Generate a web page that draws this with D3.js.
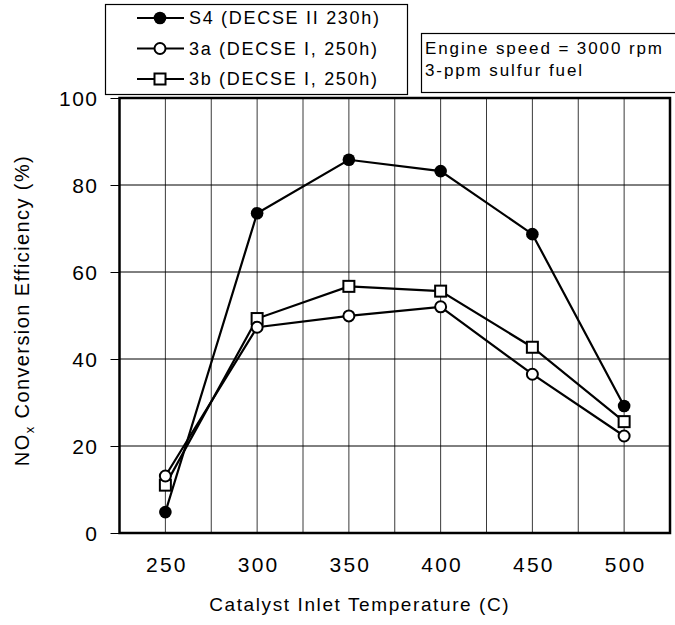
<!DOCTYPE html>
<html>
<head>
<meta charset="utf-8">
<script src="https://cdn.jsdelivr.net/npm/d3@7"></script>
<style>
  body { margin: 0; background: #fff; }
  text { font-family: "Liberation Sans", Arial, sans-serif; fill: #000; }
</style>
</head>
<body>
<svg id="chart" width="675" height="625"></svg>
<script>
const temps = [250, 300, 350, 400, 450, 500];
const s4 = [4.8, 73.5, 85.8, 83.2, 68.7, 29.2];
const s3a = [13.1, 47.3, 49.9, 52.0, 36.5, 22.3];
const s3b = [11.0, 49.3, 56.7, 55.6, 42.7, 25.6];
const seriesNames = ["S4 (DECSE II 230h)", "3a (DECSE I, 250h)", "3b (DECSE I, 250h)"];
const xTicks = [250, 300, 350, 400, 450, 500];
const yTicks = [0, 20, 40, 60, 80, 100];
const noteLines = ["Engine speed = 3000 rpm", "3-ppm sulfur fuel"];

const series = [
    {name: seriesNames[0], values: s4, marker: "filledCircle"},
    {name: seriesNames[1], values: s3a, marker: "openCircle"},
    {name: seriesNames[2], values: s3b, marker: "square"}
];

const margin = {top: 98, right: 5, bottom: 92, left: 119.5};
const width = 675 - margin.left - margin.right;
const height = 625 - margin.top - margin.bottom;

const svg = d3.select("#chart");
const g = svg.append("g")
    .attr("transform", `translate(${margin.left},${margin.top})`);

const x = d3.scaleLinear().domain([225, 525]).range([0, width]);
const y = d3.scaleLinear().domain([0, 100]).range([height, 0]);

// vertical grid every 25
g.selectAll(".vgrid")
    .data(d3.range(250, 525, 25))
    .enter()
    .append("line")
    .attr("x1", d => x(d)).attr("x2", d => x(d))
    .attr("y1", 0).attr("y2", height)
    .attr("stroke", "#3a3a3a")
    .attr("stroke-width", 1);

// horizontal grid
g.selectAll(".hgrid")
    .data(yTicks.slice(1, -1))
    .enter()
    .append("line")
    .attr("x1", 0).attr("x2", width)
    .attr("y1", d => y(d)).attr("y2", d => y(d))
    .attr("stroke", "#000")
    .attr("stroke-width", 1);

// y axis ticks and labels
const yAxis = g.append("g")
    .call(d3.axisLeft(y).tickValues(yTicks).tickSize(9).tickPadding(12));
yAxis.select(".domain").remove();
yAxis.selectAll("line").attr("stroke", "#000");
yAxis.selectAll("text")
    .style("font-size", "21px")
    .style("letter-spacing", "1.5px")
    .attr("dy", "0.35em");

// x axis labels
const xAxis = g.append("g")
    .attr("transform", `translate(0,${height})`)
    .call(d3.axisBottom(x).tickValues(xTicks).tickSize(0).tickPadding(24));
xAxis.select(".domain").remove();
xAxis.selectAll("text")
    .style("font-size", "21px")
    .style("letter-spacing", "2.2px")
    .attr("dx", "1px");

// frame
g.append("rect")
    .attr("x", 0).attr("y", 0)
    .attr("width", width).attr("height", height)
    .attr("fill", "none")
    .attr("stroke", "#000")
    .attr("stroke-width", 2.5);

// axis titles
svg.append("text")
    .attr("x", margin.left + width / 2 - 35)
    .attr("y", 611)
    .attr("text-anchor", "middle")
    .style("font-size", "19px")
    .style("letter-spacing", "1.6px")
    .text("Catalyst Inlet Temperature (C)");

const yTitle = svg.append("text")
    .attr("transform", `translate(29,${margin.top + height / 2 - 5}) rotate(-90)`)
    .attr("text-anchor", "middle")
    .style("font-size", "20px")
    .style("letter-spacing", "1.4px");
yTitle.append("tspan").text("NO");
yTitle.append("tspan").attr("dy", 5).style("font-size", "13px").text("x");
yTitle.append("tspan").attr("dy", -5).text(" Conversion Efficiency (%)");

function drawMarker(sel, type) {
    if (type === "square") {
        sel.append("rect")
            .attr("x", -5.5).attr("y", -5.5)
            .attr("width", 11).attr("height", 11)
            .attr("fill", "#fff").attr("stroke", "#000").attr("stroke-width", 2);
    } else if (type === "openCircle") {
        sel.append("circle")
            .attr("r", 5.5)
            .attr("fill", "#fff").attr("stroke", "#000").attr("stroke-width", 2);
    } else {
        sel.append("circle")
            .attr("r", 6.3)
            .attr("fill", "#000");
    }
}

const line = d3.line()
    .x((d, i) => x(temps[i]))
    .y(d => y(d));

series.slice().reverse().forEach(s => {
    g.append("path")
        .datum(s.values)
        .attr("d", line)
        .attr("fill", "none")
        .attr("stroke", "#000")
        .attr("stroke-width", 2.2);
    g.selectAll(null)
        .data(s.values)
        .enter()
        .append("g")
        .attr("transform", (d, i) => `translate(${x(temps[i])},${y(d)})`)
        .each(function() { drawMarker(d3.select(this), s.marker); });
});

// legend
const legend = svg.append("g");
legend.append("rect")
    .attr("x", 105.5).attr("y", 4.5)
    .attr("width", 302).attr("height", 90)
    .attr("fill", "#fff").attr("stroke", "#000").attr("stroke-width", 1.2);

series.forEach((s, i) => {
    const ly = 18 + i * 30.5;
    legend.append("line")
        .attr("x1", 137).attr("x2", 184)
        .attr("y1", ly).attr("y2", ly)
        .attr("stroke", "#000").attr("stroke-width", 2.2);
    const m = legend.append("g").attr("transform", `translate(160,${ly})`);
    drawMarker(m, s.marker);
    legend.append("text")
        .attr("x", 189).attr("y", ly)
        .attr("dy", "0.36em")
        .style("font-size", "18px")
        .style("letter-spacing", "1.7px")
        .text(s.name);
});

// note box
const note = svg.append("g");
note.append("rect")
    .attr("x", 421.5).attr("y", 33.5)
    .attr("width", 260).attr("height", 59)
    .attr("fill", "#fff").attr("stroke", "#000").attr("stroke-width", 1.2);
noteLines.forEach((t, i) => {
    note.append("text")
        .attr("x", 425).attr("y", 54 + i * 22)
        .style("font-size", "17px")
        .style("letter-spacing", "1.9px")
        .text(t);
});
</script>
</body>
</html>
